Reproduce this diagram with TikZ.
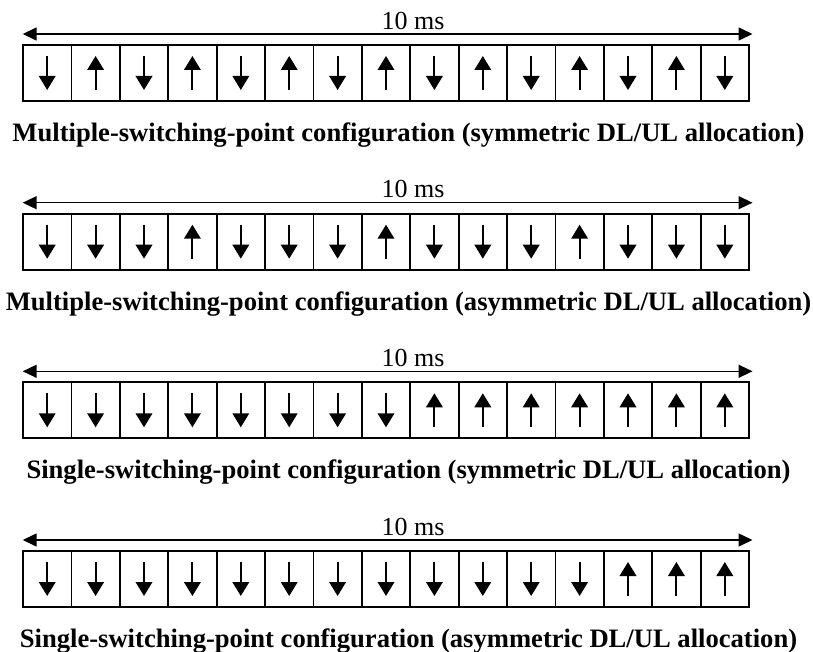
\documentclass[tikz,border=0pt]{standalone}
\usepackage{fontspec}
\setmainfont{Liberation Serif}
\usetikzlibrary{arrows.meta}
\begin{document}
\begin{tikzpicture}[x=1pt,y=-1pt,
  cell/.style={draw,line width=1.8pt,minimum width=48.4pt,minimum height=56pt,inner sep=0pt,outer sep=0pt,anchor=north west},
  dirarrow/.style={line width=2pt,-{Triangle[length=14pt,width=16.5pt]}},
  spanarrow/.style={line width=1.5pt,{Triangle[length=14pt,width=13pt]}-{Triangle[length=14pt,width=13pt]}},
  durlabel/.style={font=\fontsize{26}{30}\selectfont,anchor=base,inner sep=0pt},
  captionlabel/.style={font=\fontsize{26.6}{30}\selectfont\bfseries,anchor=base,inner sep=0pt}]
\useasboundingbox (0,0) rectangle (813,652);
\foreach \r/\T/\pat/\cap in {
  1/45/{d,u,d,u,d,u,d,u,d,u,d,u,d,u,d}/{Multiple-switching-point configuration (symmetric DL/UL allocation)},
  2/213.7/{d,d,d,u,d,d,d,u,d,d,d,u,d,d,d}/{Multiple-switching-point configuration (asymmetric DL/UL allocation)},
  3/382.3/{d,d,d,d,d,d,d,d,u,u,u,u,u,u,u}/{Single-switching-point configuration (symmetric DL/UL allocation)},
  4/551/{d,d,d,d,d,d,d,d,d,d,d,d,u,u,u}/{Single-switching-point configuration (asymmetric DL/UL allocation)}} {
  \foreach \c [count=\j] in \pat {
    \pgfmathsetmacro{\xx}{23+(\j-1)*48.4}
    \node[cell] (r\r c\j) at (\xx,\T) {};
    \if d\c
      \draw[dirarrow] ([yshift=-11pt]r\r c\j.north) -- ([yshift=11pt]r\r c\j.south);
    \else
      \draw[dirarrow] ([yshift=11pt]r\r c\j.south) -- ([yshift=-11pt]r\r c\j.north);
    \fi
  }
  \coordinate (r\r L) at (22.7,\T-11);
  \coordinate (r\r R) at (752.5,\T-11);
  \draw[spanarrow] (r\r L) -- (r\r R);
  \node[durlabel] (dur\r) at (413,\T-15.7) {10 ms};
  \node[captionlabel] (cap\r) at (408.5,\T+96.5) {\cap};
}
\end{tikzpicture}
\end{document}
